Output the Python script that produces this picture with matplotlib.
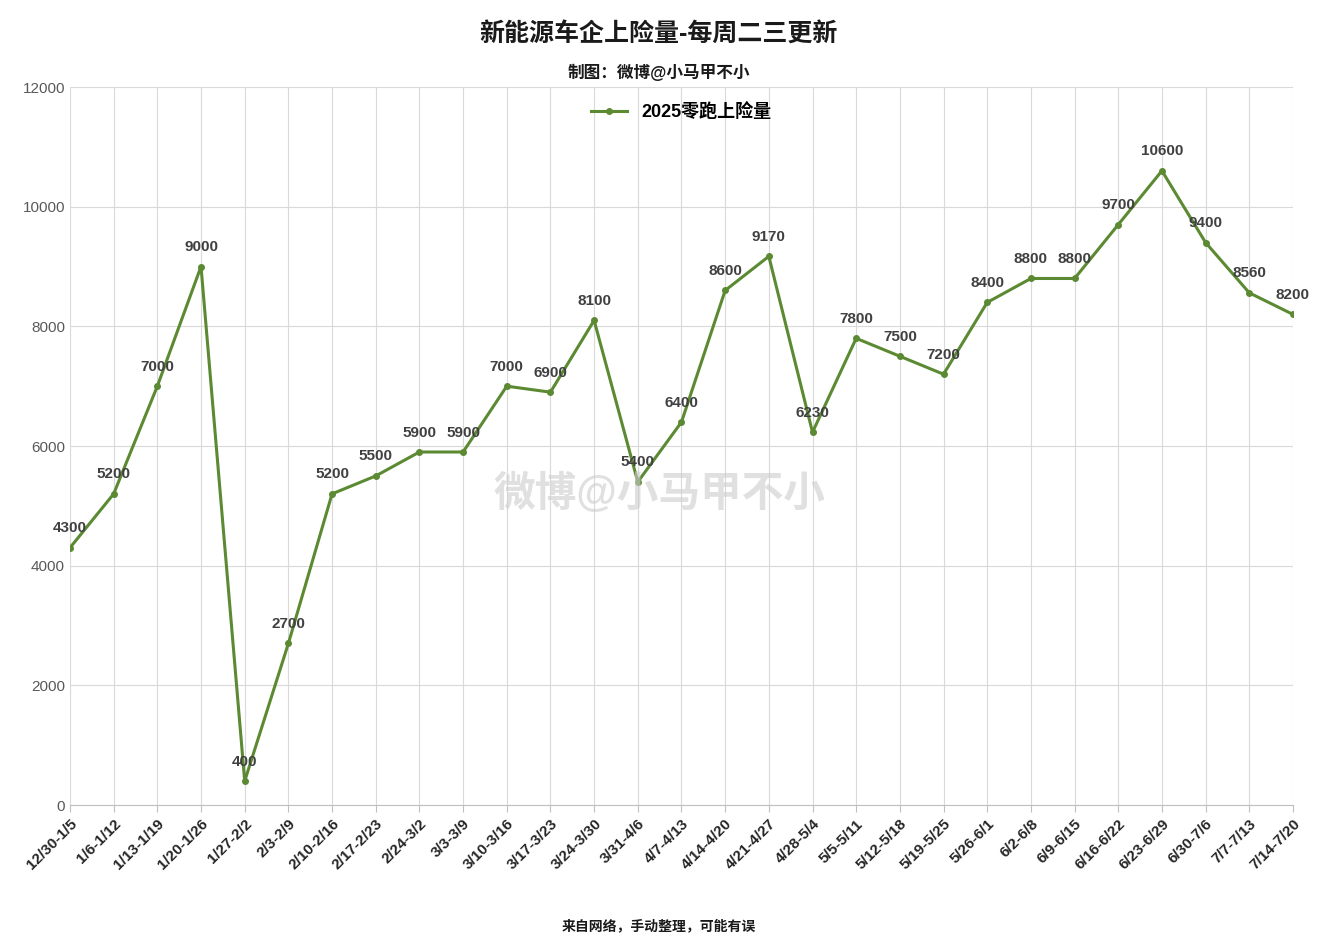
import matplotlib.pyplot as plt

plt.rcParams['font.family'] = ['Liberation Sans', 'Noto Sans CJK SC', 'DejaVu Sans']

weeks = ['12/30-1/5', '1/6-1/12', '1/13-1/19', '1/20-1/26', '1/27-2/2', '2/3-2/9',
         '2/10-2/16', '2/17-2/23', '2/24-3/2', '3/3-3/9', '3/10-3/16', '3/17-3/23',
         '3/24-3/30', '3/31-4/6', '4/7-4/13', '4/14-4/20', '4/21-4/27', '4/28-5/4',
         '5/5-5/11', '5/12-5/18', '5/19-5/25', '5/26-6/1', '6/2-6/8', '6/9-6/15',
         '6/16-6/22', '6/23-6/29', '6/30-7/6', '7/7-7/13', '7/14-7/20']
leap = [4300, 5200, 7000, 9000, 400, 2700, 5200, 5500, 5900, 5900, 7000, 6900,
        8100, 5400, 6400, 8600, 9170, 6230, 7800, 7500, 7200, 8400, 8800, 8800,
        9700, 10600, 9400, 8560, 8200]

green = '#5b8a32'
fig = plt.figure(figsize=(13.18, 9.51), dpi=100)
ax = fig.add_axes([0.0531, 0.1535, 0.9279, 0.755])
x = list(range(len(weeks)))
ax.plot(x, leap, color=green, lw=2.2, marker='o', ms=4, label='2025零跑上险量', zorder=3)
for i, v in enumerate(leap):
    ax.annotate(str(v), (i, v), xytext=(0, 9), textcoords='offset points',
                ha='center', va='bottom', fontsize=11, fontweight='bold', color='#404040')

ax.set_xlim(0, len(weeks) - 1)
ax.set_ylim(0, 12000)
ax.set_yticks(range(0, 12001, 2000))
ax.set_xticks(x)
ax.set_xticklabels(weeks, rotation=45, ha='right', rotation_mode='anchor',
                   fontsize=11, fontweight='bold', color='#262626')
ax.tick_params(axis='y', labelsize=11, colors='#595959', length=0)
ax.tick_params(axis='x', length=5, color='#bfbfbf')
ax.grid(True, color='#d9d9d9', lw=0.8)
for s in ['top', 'right', 'left']:
    ax.spines[s].set_visible(False)
ax.spines['bottom'].set_color('#bfbfbf')

ax.legend(loc='upper center', bbox_to_anchor=(0.5, 1.0), frameon=False,
          prop={'size': 13, 'weight': 'bold'}, handlelength=2)

fig.text(0.5, 0.965, '新能源车企上险量-每周二三更新', ha='center', va='center',
         fontsize=18, fontweight='bold', color='#1a1a1a')
fig.text(0.5, 0.924, '制图：微博@小马甲不小', ha='center', va='center',
         fontsize=12, fontweight='bold', color='#1a1a1a')
fig.text(0.5, 0.026, '来自网络，手动整理，可能有误', ha='center', va='center',
         fontsize=10, fontweight='bold', color='#1a1a1a')
fig.text(0.5, 0.48, '微博@小马甲不小', ha='center', va='center', fontsize=30,
         fontweight='bold', color='#cccccc', alpha=0.6)

fig.savefig('out.png', dpi=100, facecolor='white')
